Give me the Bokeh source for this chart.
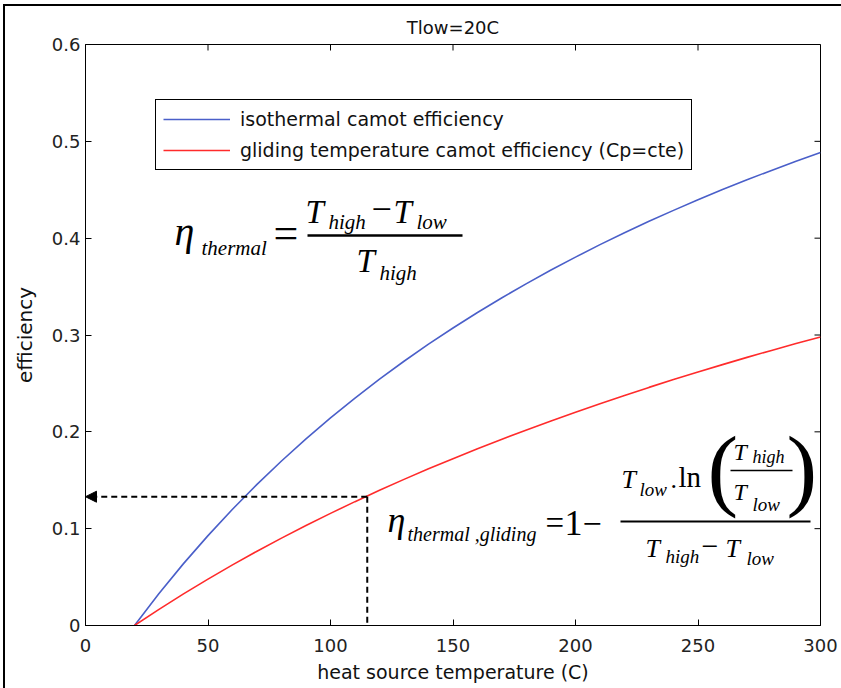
from bokeh.plotting import figure
from bokeh.models import (Label, Legend, LegendItem, FixedTicker,
                          Arrow, NormalHead, Range1d)
from bokeh.embed import file_html
from bokeh.resources import INLINE

# ---------------- data ----------------
temp_c = [20, 30, 40, 50, 60, 70, 80, 90, 100, 110, 120, 130, 140, 150, 160,
          170, 180, 190, 200, 210, 220, 230, 240, 250, 260, 270, 280, 290, 300]
eta_isothermal = [0.0, 0.0330, 0.0639, 0.0928, 0.1201, 0.1457, 0.1699, 0.1928,
                  0.2144, 0.2349, 0.2544, 0.2729, 0.2905, 0.3072, 0.3232, 0.3385,
                  0.3531, 0.3671, 0.3804, 0.3933, 0.4056, 0.4174, 0.4287, 0.4396,
                  0.4502, 0.4603, 0.4700, 0.4794, 0.4885]
eta_gliding = [0.0, 0.0167, 0.0326, 0.0479, 0.0626, 0.0767, 0.0902, 0.1032,
               0.1158, 0.1279, 0.1396, 0.1509, 0.1618, 0.1723, 0.1825, 0.1924,
               0.2020, 0.2113, 0.2203, 0.2291, 0.2376, 0.2459, 0.2540, 0.2618,
               0.2694, 0.2769, 0.2841, 0.2912, 0.2980]

x_ticks = [0, 50, 100, 150, 200, 250, 300]
y_ticks = [0, 0.1, 0.2, 0.3, 0.4, 0.5, 0.6]
y_tick_labels = ["0", "0.1", "0.2", "0.3", "0.4", "0.5", "0.6"]

title_text = "Tlow=20C"
x_label = "heat source temperature (C)"
y_label = "efficiency"
legend_labels = ["isothermal camot efficiency",
                 "gliding temperature camot efficiency (Cp=cte)"]

read_temp = 115      # dashed reading line
read_eta = 0.133

# ---------------- styling ----------------
BLUE = "#4a5fc9"
RED = "#ff2b2b"
SANS = "DejaVu Sans"
SERIF = "Liberation Serif"

X_MIN, X_MAX = x_ticks[0], x_ticks[-1]
Y_MIN, Y_MAX = y_ticks[0], y_ticks[-1]

# frame position on the page (pixels) used for annotation placement
FX0, FX1, FY0, FY1 = 85, 820, 625, 44

p = figure(frame_width=735, frame_height=581,
           min_border_left=80, min_border_top=38,
           min_border_right=21, min_border_bottom=63,
           x_range=Range1d(X_MIN, X_MAX), y_range=Range1d(Y_MIN, Y_MAX),
           output_backend="svg", toolbar_location=None, title=title_text)
p.margin = (4, 0, 0, 3)
p.styles = {"border-left": "2px solid black", "border-top": "2px solid black"}

p.background_fill_color = "white"
p.border_fill_color = "white"
p.outline_line_color = "black"
p.outline_line_width = 1
p.outline_line_alpha = 1
p.xgrid.visible = False
p.ygrid.visible = False

p.title.text_font = SANS
p.title.text_font_size = "18px"
p.title.text_font_style = "normal"
p.title.align = "center"
p.title.vertical_align = "top"
p.title.text_color = "#111111"
p.title.standoff = 10

xa = p.xaxis[0]
ya = p.yaxis[0]
xa.ticker = FixedTicker(ticks=x_ticks)
ya.ticker = FixedTicker(ticks=y_ticks)
ya.major_label_overrides = {t: s for t, s in zip(y_ticks, y_tick_labels)}
xa.axis_label = x_label
ya.axis_label = y_label
for ax in (xa, ya):
    ax.major_label_text_font = SANS
    ax.major_label_text_font_size = "18px"
    ax.major_label_text_color = "#222222"
    ax.axis_label_text_font = SANS
    ax.axis_label_text_font_size = "19px"
    ax.axis_label_text_font_style = "normal"
    ax.axis_label_text_color = "#111111"
    ax.major_tick_in = 6
    ax.major_tick_out = 0
    ax.minor_tick_in = 0
    ax.minor_tick_out = 0
    ax.axis_line_color = "black"
    ax.major_tick_line_color = "black"
ya.major_label_standoff = 5
ya.axis_label_text_font_size = "20px"
ya.axis_label_standoff = 12
xa.major_label_standoff = 13
xa.axis_label_standoff = 6

# inward ticks on the top and right edges of the box
p.ray(x=x_ticks, y=[Y_MAX] * len(x_ticks), length=6, length_units="screen",
      angle=-90, angle_units="deg", line_color="black", line_width=1)
p.ray(x=[X_MAX] * len(y_ticks), y=y_ticks, length=6, length_units="screen",
      angle=180, angle_units="deg", line_color="black", line_width=1)

# ---------------- curves ----------------
r_iso = p.line(temp_c, eta_isothermal, line_color=BLUE, line_width=1.6)
r_gli = p.line(temp_c, eta_gliding, line_color=RED, line_width=1.6)

legend = Legend(items=[LegendItem(label=legend_labels[0], renderers=[r_iso]),
                       LegendItem(label=legend_labels[1], renderers=[r_gli])],
                location=(70, 455), padding=7, spacing=7, margin=0,
                glyph_width=67, glyph_height=24, label_height=24, label_standoff=10,
                label_text_font=SANS, label_text_font_size="19px",
                label_text_color="#111111",
                border_line_color="black", border_line_width=1, border_line_alpha=1,
                background_fill_color="white", background_fill_alpha=1)
p.add_layout(legend)

# ---------------- dashed reading lines ----------------
p.add_layout(Arrow(end=NormalHead(size=11, fill_color="black", line_color="black",
                                  line_width=1),
                   x_start=read_temp, y_start=read_eta, x_end=X_MIN, y_end=read_eta,
                   line_color="black", line_width=2, line_dash="6 4"))
p.segment(x0=[read_temp], y0=[read_eta], x1=[read_temp], y1=[Y_MIN],
          line_color="black", line_width=2, line_dash="6 4")


# ---------------- text placement helpers ----------------
K = 0.35   # correction of the rendered baseline, in em


def dx(px):
    return (px - FX0) / (FX1 - FX0) * (X_MAX - X_MIN)


def dy(py):
    return (FY0 - py) / (FY0 - FY1) * (Y_MAX - Y_MIN)


def put(txt, px, py, size, style="italic", font=SERIF, align="left", color="black"):
    p.add_layout(Label(x=dx(px), y=dy(py - K * size), text=txt, text_font=font,
                       text_font_size=f"{size}px", text_font_style=style,
                       text_baseline="alphabetic", text_align=align,
                       text_color=color))


def bar(pa, pb, py, w):
    p.segment(x0=[dx(pa)], y0=[dy(py)], x1=[dx(pb)], y1=[dy(py)],
              line_color="black", line_width=w)


# eta_thermal = (T_high - T_low) / T_high
put("\u03b7", 174, 245, 40)
put("thermal", 201, 255, 21)
put("=", 273, 248, 44, "normal")
put("T", 305, 223, 33)
put("high", 328, 229, 21)
put("\u2212", 371, 221, 36, "normal")
put("T", 393, 223, 33)
put("low", 416, 229, 21)
bar(307, 462, 235, 2.5)
put("T", 356, 272, 33)
put("high", 379, 280, 21)

# eta_thermal,gliding = 1 - T_low.ln(T_high/T_low) / (T_high - T_low)
put("\u03b7", 387, 532, 36)
put("thermal ,gliding", 407, 540, 20)
put("=", 545, 534, 33, "normal")
put("1", 564, 535, 36, "normal")
put("\u2212", 582, 535, 34, "normal")
bar(620, 810, 521, 2)
put("T", 621, 488, 26)
put("low", 639, 496, 19)
put(".", 670, 488, 26, "normal")
put("ln", 678, 487, 29, "normal")
put("(", 707, 500, 92, "normal")
put("T", 733, 460, 24)
put("high", 752, 463, 18)
bar(730, 792, 470, 1.5)
put("T", 733, 500, 24)
put("low", 752, 511, 19)
put(")", 786, 500, 92, "normal")
put("T", 645, 557, 26)
put("high", 665, 563, 19)
put("\u2212", 701, 556, 30, "normal")
put("T", 725, 557, 26)
put("low", 746, 565, 19)

open("out.html", "w").write(file_html(p, INLINE))
